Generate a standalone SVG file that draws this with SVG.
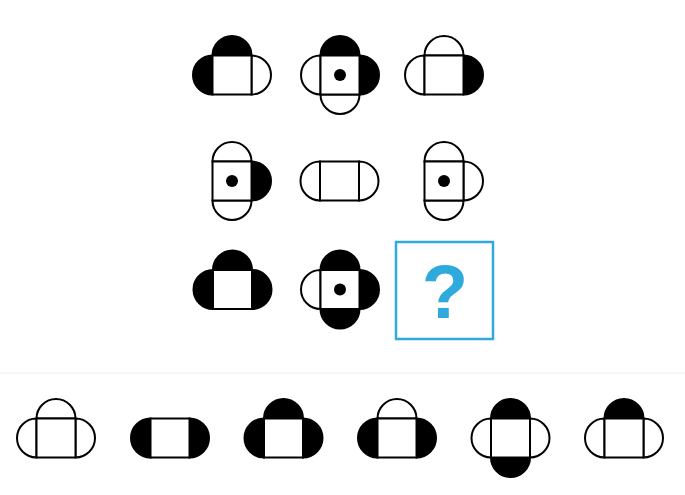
<svg xmlns="http://www.w3.org/2000/svg" xmlns:xlink="http://www.w3.org/1999/xlink" width="685" height="495" viewBox="0 0 685 495">
<style>
.o{fill:#fff;stroke:#000;stroke-width:2}
.f{fill:#000;stroke:#000;stroke-width:2}
.d{fill:#000}
.q{fill:none;stroke:#2EAADC;stroke-width:2.5}
.qt{font-family:"Liberation Sans",Arial,sans-serif;font-weight:bold;font-size:76px;fill:#2EAADC}
</style>
<defs>
<rect id="sq" x="-19.5" y="-19.5" width="39" height="39"/>
<path id="T" d="M-19.5,-19.5 A19.5,19.5 0 0 1 19.5,-19.5 Z"/>
<path id="B" d="M-19.5,19.5 A19.5,19.5 0 0 0 19.5,19.5 Z"/>
<path id="L" d="M-19.5,-19.5 A19.5,19.5 0 0 0 -19.5,19.5 Z"/>
<path id="R" d="M19.5,-19.5 A19.5,19.5 0 0 1 19.5,19.5 Z"/>
<circle id="dot" r="6"/>
</defs>
<rect width="685" height="495" fill="#fff"/>
<line x1="0" y1="373" x2="685" y2="373" stroke="#eeeeee" stroke-width="1"/>
<g id="connectors"/>
<!-- Row 1 -->
<g id="r1c1" transform="translate(232,75)">
<use xlink:href="#T" class="f"/><use xlink:href="#L" class="f"/><use xlink:href="#R" class="o"/><use xlink:href="#sq" class="o"/>
</g>
<g id="r1c2" transform="translate(340,75)">
<use xlink:href="#T" class="f"/><use xlink:href="#R" class="f"/><use xlink:href="#L" class="o"/><use xlink:href="#B" class="o"/><use xlink:href="#sq" class="o"/><use xlink:href="#dot" class="d"/>
</g>
<g id="r1c3" transform="translate(444,75)">
<use xlink:href="#T" class="o"/><use xlink:href="#L" class="o"/><use xlink:href="#R" class="f"/><use xlink:href="#sq" class="o"/>
</g>
<!-- Row 2 -->
<g id="r2c1" transform="translate(232,181)">
<use xlink:href="#T" class="o"/><use xlink:href="#B" class="o"/><use xlink:href="#R" class="f"/><use xlink:href="#sq" class="o"/><use xlink:href="#dot" class="d"/>
</g>
<g id="r2c2" transform="translate(339.5,181)">
<use xlink:href="#L" class="o"/><use xlink:href="#R" class="o"/><use xlink:href="#sq" class="o"/>
</g>
<g id="r2c3" transform="translate(444,181)">
<use xlink:href="#T" class="o"/><use xlink:href="#B" class="o"/><use xlink:href="#R" class="o"/><use xlink:href="#sq" class="o"/><use xlink:href="#dot" class="d"/>
</g>
<!-- Row 3 -->
<g id="r3c1" transform="translate(232.5,289.5)">
<use xlink:href="#T" class="f"/><use xlink:href="#L" class="f"/><use xlink:href="#R" class="f"/><use xlink:href="#sq" class="o"/>
</g>
<g id="r3c2" transform="translate(340,289.5)">
<use xlink:href="#T" class="f"/><use xlink:href="#R" class="f"/><use xlink:href="#B" class="f"/><use xlink:href="#L" class="o"/><use xlink:href="#sq" class="o"/><use xlink:href="#dot" class="d"/>
</g>
<g id="question">
<rect x="396" y="242" width="97" height="97" class="q"/>
<text x="445" y="318" text-anchor="middle" class="qt">?</text>
</g>
<!-- Options -->
<g id="opt1" transform="translate(56,438)">
<use xlink:href="#T" class="o"/><use xlink:href="#L" class="o"/><use xlink:href="#R" class="o"/><use xlink:href="#sq" class="o"/>
</g>
<g id="opt2" transform="translate(170,438)">
<use xlink:href="#L" class="f"/><use xlink:href="#R" class="f"/><use xlink:href="#sq" class="o"/>
</g>
<g id="opt3" transform="translate(283.5,438)">
<use xlink:href="#T" class="f"/><use xlink:href="#L" class="f"/><use xlink:href="#R" class="f"/><use xlink:href="#sq" class="o"/>
</g>
<g id="opt4" transform="translate(397,438)">
<use xlink:href="#T" class="o"/><use xlink:href="#L" class="f"/><use xlink:href="#R" class="f"/><use xlink:href="#sq" class="o"/>
</g>
<g id="opt5" transform="translate(510.5,438)">
<use xlink:href="#T" class="f"/><use xlink:href="#B" class="f"/><use xlink:href="#L" class="o"/><use xlink:href="#R" class="o"/><use xlink:href="#sq" class="o"/>
</g>
<g id="opt6" transform="translate(624,438)">
<use xlink:href="#T" class="f"/><use xlink:href="#L" class="o"/><use xlink:href="#R" class="o"/><use xlink:href="#sq" class="o"/>
</g>
</svg>
